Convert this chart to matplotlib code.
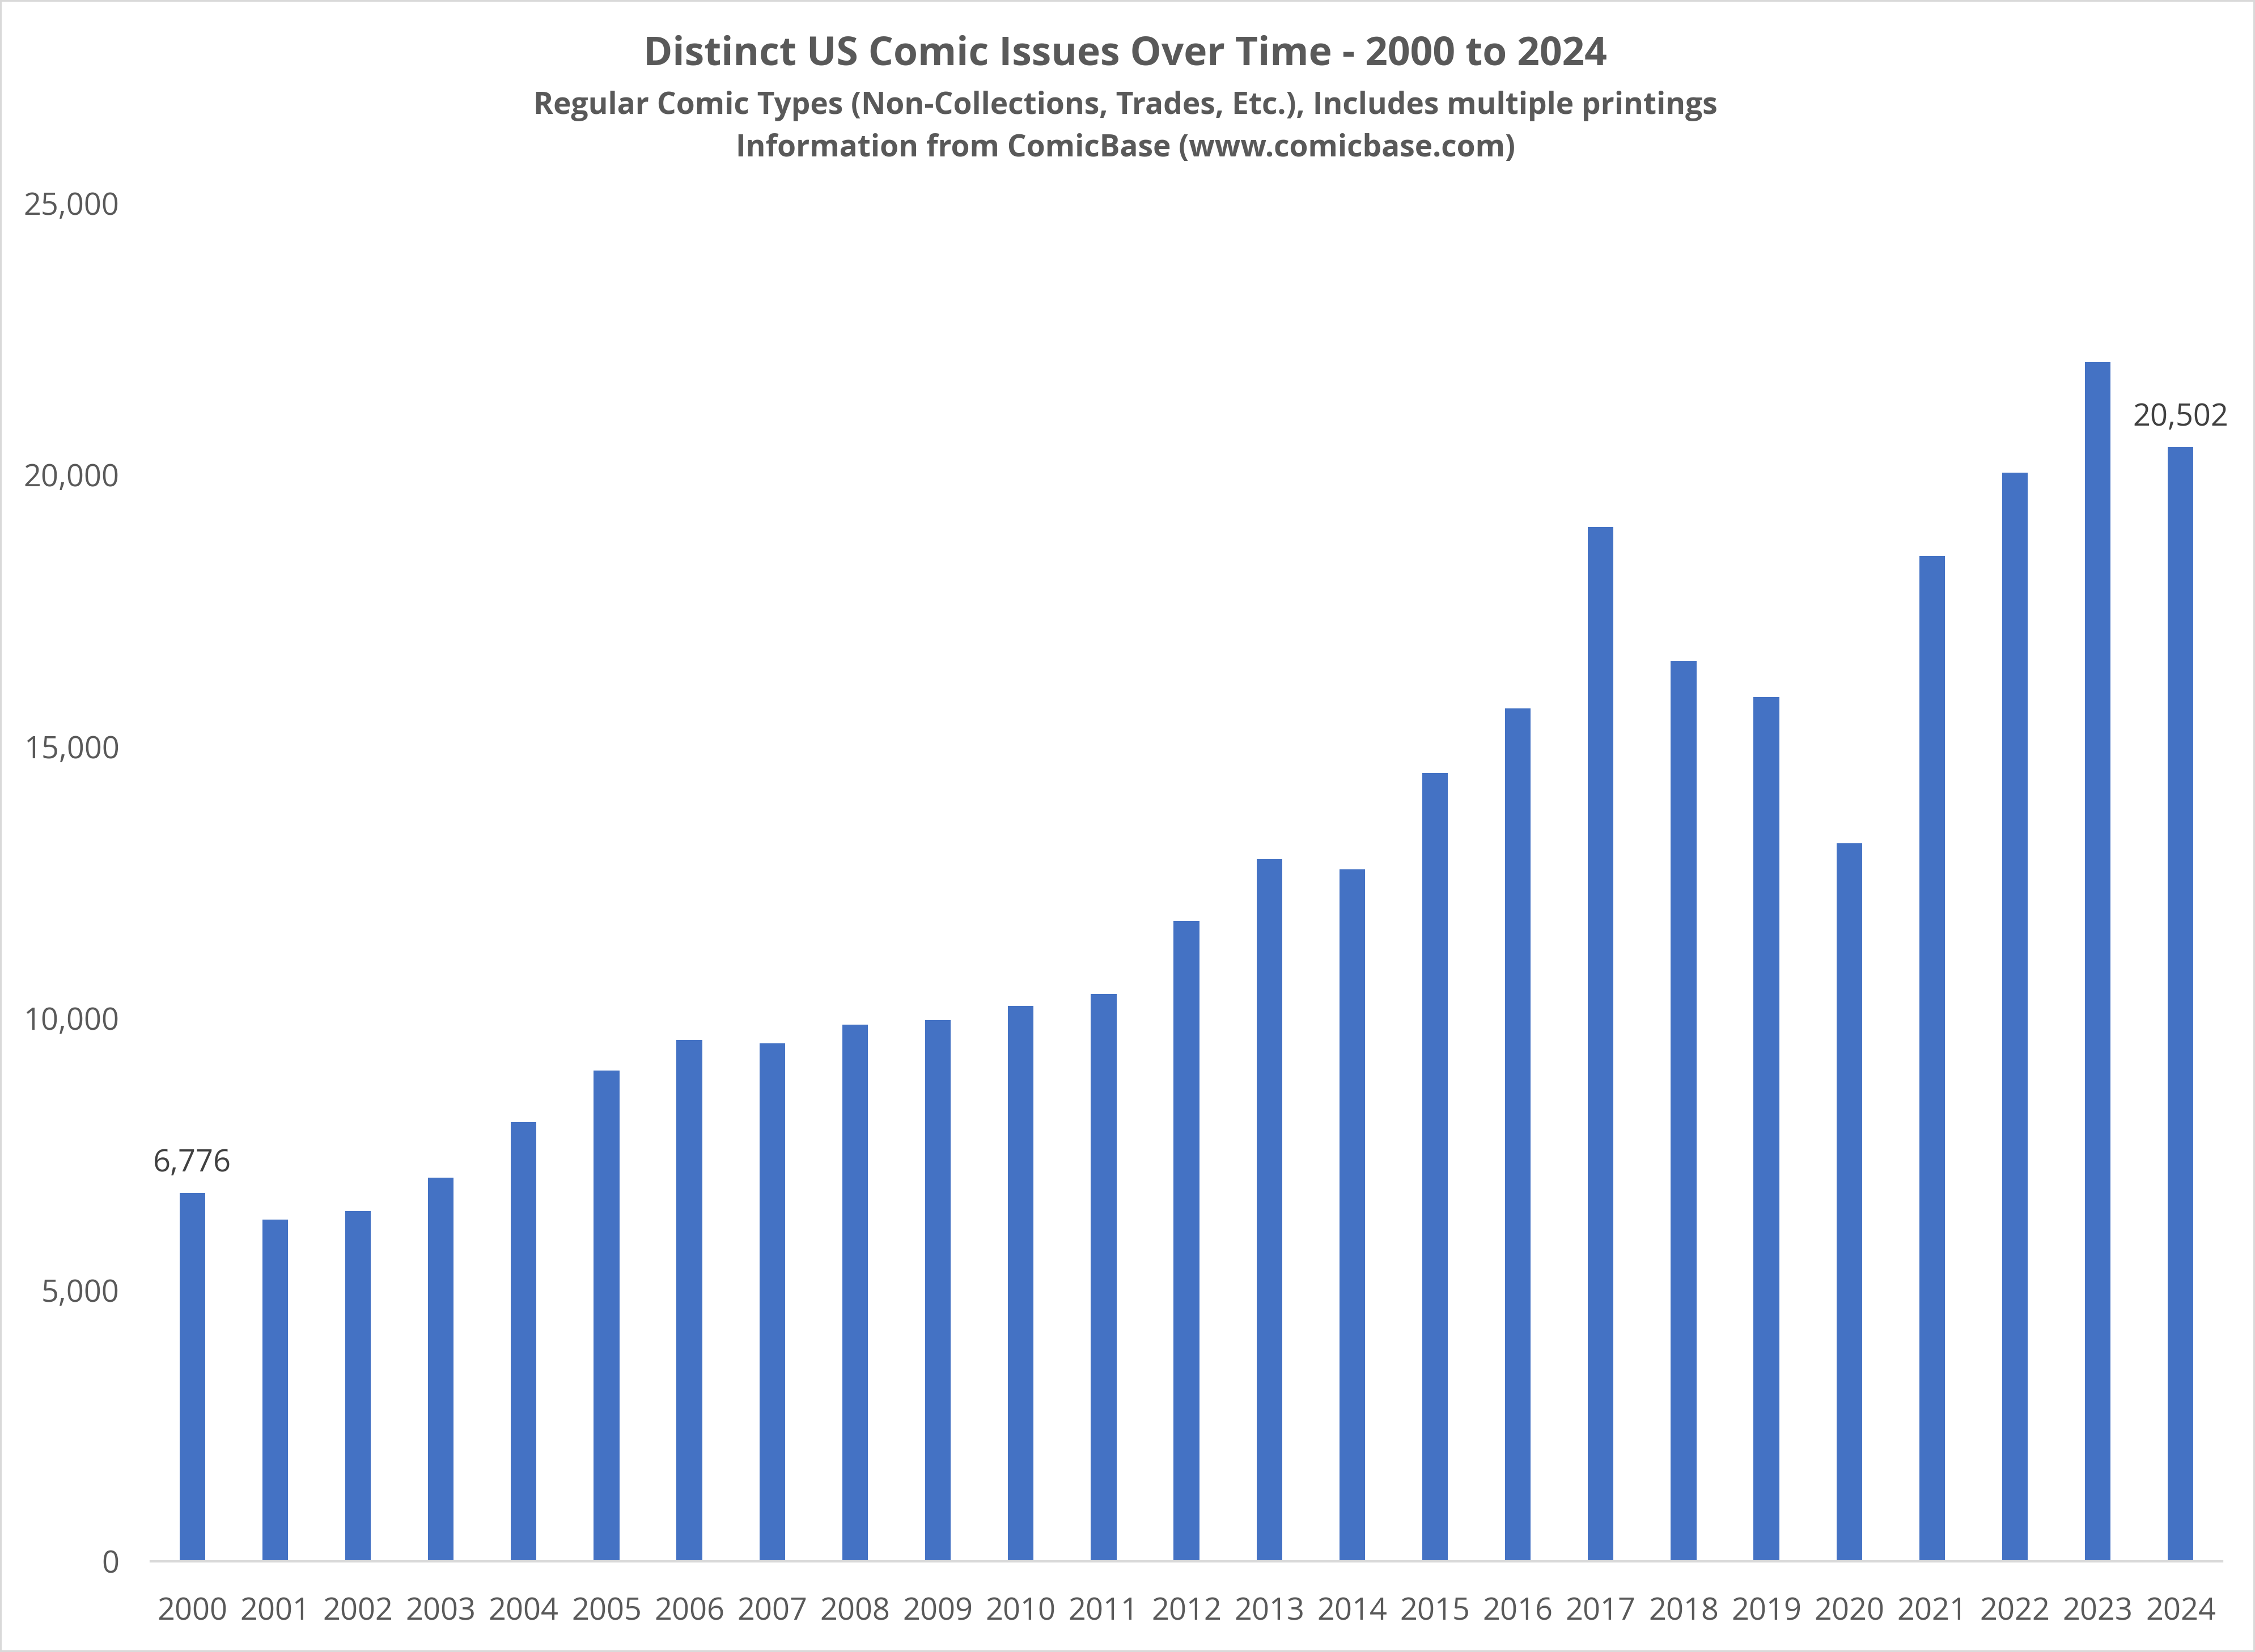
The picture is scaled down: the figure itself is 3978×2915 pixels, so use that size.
import matplotlib.pyplot as plt
import numpy as np

# datos
anios = [str(a) for a in range(2000, 2025)]
ediciones = [6776, 6290, 6450, 7060, 8080, 9030, 9590, 9530, 9880, 9960,
             10220, 10440, 11780, 12920, 12730, 14510, 15700, 19030, 16570,
             15910, 13210, 18500, 20040, 22070, 20502]
etiquetas = {0: '6,776', 24: '20,502'}
yticks = [0, 5000, 10000, 15000, 20000, 25000]

titulo = 'Distinct US Comic Issues Over Time - 2000 to 2024'
sub1 = 'Regular Comic Types (Non-Collections, Trades, Etc.), Includes multiple printings'
sub2 = 'Information from ComicBase (www.comicbase.com)'

plt.rcParams['font.family'] = ['Open Sans', 'DejaVu Sans']
gris = '#595959'

fig = plt.figure(figsize=(19.89, 14.575), dpi=200)
fig.patch.set_edgecolor('#d9d9d9')
fig.patch.set_linewidth(2)
ax = fig.add_axes([0.0669, 0.0549, 0.9185, 0.8223])

x = np.arange(len(anios))
ax.bar(x, ediciones, width=0.31, color='#4472C4', zorder=2)

for i, txt in etiquetas.items():
    ax.annotate(txt, (x[i], ediciones[i]), xytext=(0, 9), textcoords='offset points',
                ha='center', va='bottom', fontsize=19.5, color='#404040')

ax.set_xlim(-0.5, len(anios) - 0.5)
ax.set_ylim(0, 25000)
ax.set_xticks(x)
ax.set_xticklabels(anios)
ax.set_yticks(yticks)
ax.set_yticklabels([f'{v:,}' for v in yticks])
ax.tick_params(axis='both', length=0, labelsize=19.5, colors=gris)
ax.tick_params(axis='x', pad=22)
ax.tick_params(axis='y', pad=20)
for s in ['top', 'right', 'left']:
    ax.spines[s].set_visible(False)
ax.spines['bottom'].set_color('#d9d9d9')
ax.spines['bottom'].set_linewidth(1.5)

fig.text(0.499, 0.967, titulo, ha='center', va='center', fontsize=25,
         fontweight='bold', color=gris)
fig.text(0.499, 0.936, sub1, ha='center', va='center', fontsize=19.2,
         fontweight='bold', color=gris)
fig.text(0.499, 0.910, sub2, ha='center', va='center', fontsize=19.2,
         fontweight='bold', color=gris)

plt.savefig('out.png', dpi=200, edgecolor=fig.get_edgecolor())
